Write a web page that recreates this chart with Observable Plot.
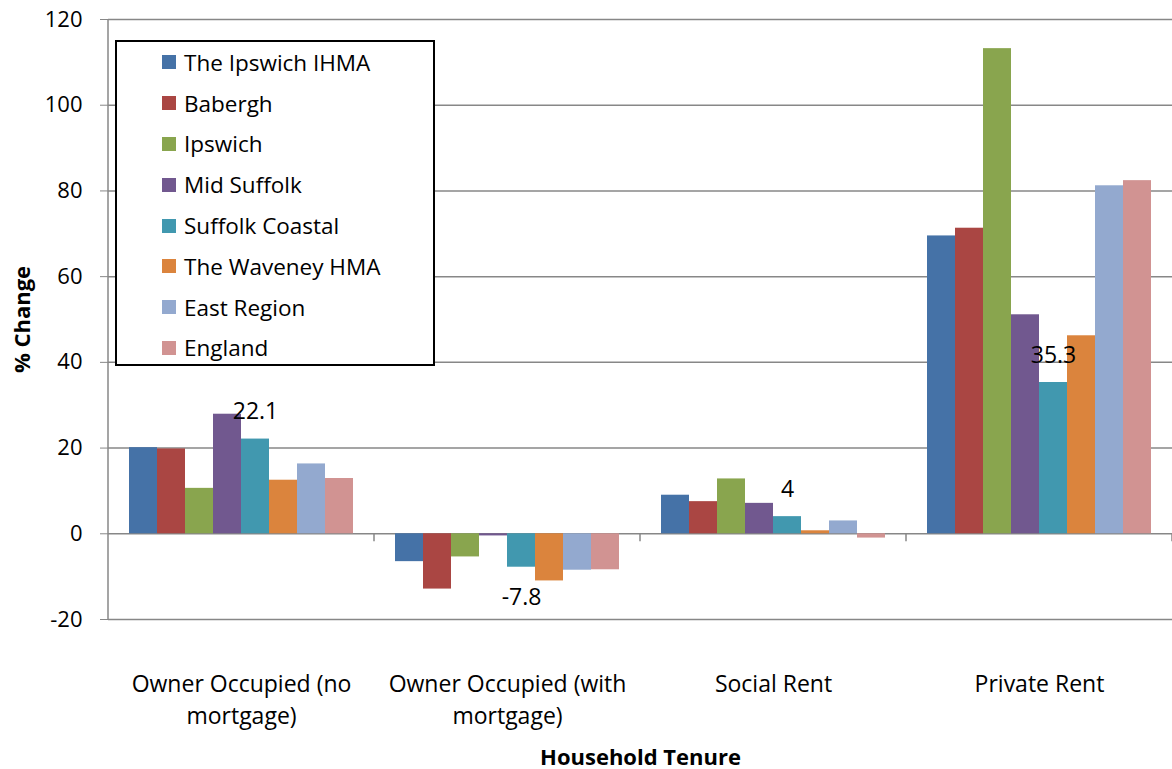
<!DOCTYPE html>
<html>
<head>
<meta charset="utf-8">
<script src="https://cdn.jsdelivr.net/npm/d3@7"></script>
<script src="https://cdn.jsdelivr.net/npm/@observablehq/plot@0.6"></script>
<style>
  html, body { margin: 0; padding: 0; background: #fff; }
  #wrap { position: relative; width: 1172px; height: 769px; font-family: "Open Sans", sans-serif; }
  #legend { position: absolute; left: 115px; top: 40px; width: 316px; height: 322px; border: 2px solid #000; background: #fff; box-sizing: content-box; }
  .item { height: 40.8px; display: flex; align-items: center; font-size: 22.5px; color: #000; }
  .sw { width: 14px; height: 14px; margin-left: 45px; margin-right: 8px; flex: none; }
</style>
</head>
<body>
<div id="wrap"></div>
<script>
const categories = ["Owner Occupied (no\nmortgage)", "Owner Occupied (with\nmortgage)", "Social Rent", "Private Rent"];
const series = ["The Ipswich IHMA", "Babergh", "Ipswich", "Mid Suffolk", "Suffolk Coastal", "The Waveney HMA", "East Region", "England"];
const colors = ["#4572A7", "#AA4643", "#89A54E", "#71588F", "#4198AF", "#DB843D", "#93A9CF", "#D19392"];
const ipswichIHMA   = [20.1, -6.5, 9.0, 69.5];
const babergh       = [19.8, -12.9, 7.5, 71.3];
const ipswich       = [10.6, -5.4, 12.8, 113.2];
const midSuffolk    = [27.9, -0.5, 7.1, 51.1];
const suffolkCoastal= [22.1, -7.8, 4.0, 35.3];
const waveneyHMA    = [12.5, -11.0, 0.7, 46.2];
const eastRegion    = [16.3, -8.5, 3.0, 81.2];
const england       = [12.9, -8.4, -1.0, 82.4];
const yTicks = [-20, 0, 20, 40, 60, 80, 100, 120];
const labelledSeries = "Suffolk Coastal";

const seriesValues = [ipswichIHMA, babergh, ipswich, midSuffolk, suffolkCoastal, waveneyHMA, eastRegion, england];
const data = [];
series.forEach((s, i) => categories.forEach((c, j) => data.push({cat: c, series: s, value: seriesValues[i][j]})));
const labelled = data.filter(d => d.series === labelledSeries);
const fmt = v => String(v).replace(/\.0$/, "");

const plot = Plot.plot({
  width: 1172,
  height: 769,
  marginLeft: 108,
  marginRight: 0,
  marginTop: 19,
  marginBottom: 150,
  style: {fontFamily: "Open Sans, sans-serif", fontSize: "22px", background: "#fff"},
  y: {domain: [-20, 120]},
  fx: {domain: categories, padding: 0},
  x: {domain: series, paddingInner: 0, paddingOuter: 0.73, axis: null},
  color: {domain: series, range: colors},
  marks: [
    Plot.ruleY(yTicks, {stroke: "#878787", strokeWidth: 1.5}),
    Plot.barY(data, {fx: "cat", x: "series", y: "value", fill: "series"}),
    Plot.text(labelled.filter(d => d.value >= 0), {fx: "cat", x: "series", y: "value", text: d => fmt(d.value), dy: -27, fontSize: 23, fill: "#000"}),
    Plot.text(labelled.filter(d => d.value < 0), {fx: "cat", x: "series", y: "value", text: d => fmt(d.value), dy: 30, fontSize: 23, fill: "#000"}),
    Plot.axisY({ticks: yTicks, tickSize: 8, tickPadding: 18, stroke: "#878787", fontSize: 22, tickFormat: d => String(d), label: null}),
    Plot.axisY({ticks: [], label: "% Change", labelArrow: "none", labelAnchor: "center", labelOffset: 94, fontWeight: "bold", fontSize: 22}),
    Plot.axisFx({anchor: "bottom", tickSize: 0, tickPadding: 50, fontSize: 23, lineHeight: 1.39, label: null}),
    Plot.axisFx({anchor: "bottom", ticks: [], label: "Household Tenure", labelArrow: "none", labelAnchor: "center", labelOffset: 145, fontWeight: "bold", fontSize: 22})
  ]
});

document.getElementById("wrap").appendChild(plot);

// strip any arrow Plot may add to axis labels
d3.select(plot).selectAll("text").each(function() {
  const t = d3.select(this);
  if (this.childNodes.length === 1 && /[→↑←↓]/.test(t.text())) t.text(t.text().replace(/\s*[→↑←↓]\s*/g, "").trim());
});

// axis line and category ticks, positioned from the plot's own scales
const fx = plot.scale("fx");
const y = plot.scale("y");
const svg = d3.select(plot);
const g = svg.append("g").attr("stroke", "#878787").attr("stroke-width", 1.5);
const bounds = categories.map(c => fx.apply(c));
bounds.push(fx.apply(categories[categories.length - 1]) + fx.bandwidth);
g.append("line").attr("x1", bounds[0]).attr("x2", bounds[0]).attr("y1", y.apply(120)).attr("y2", y.apply(-20));
bounds.slice(1).forEach(b => g.append("line").attr("x1", b).attr("x2", b).attr("y1", y.apply(0)).attr("y2", y.apply(0) + 8));

// legend
const legend = d3.select("#wrap").append("div").attr("id", "legend");
series.forEach((s, i) => {
  const it = legend.append("div").attr("class", "item");
  it.append("div").attr("class", "sw").style("background", colors[i]);
  it.append("span").text(s);
});
</script>
</body>
</html>
